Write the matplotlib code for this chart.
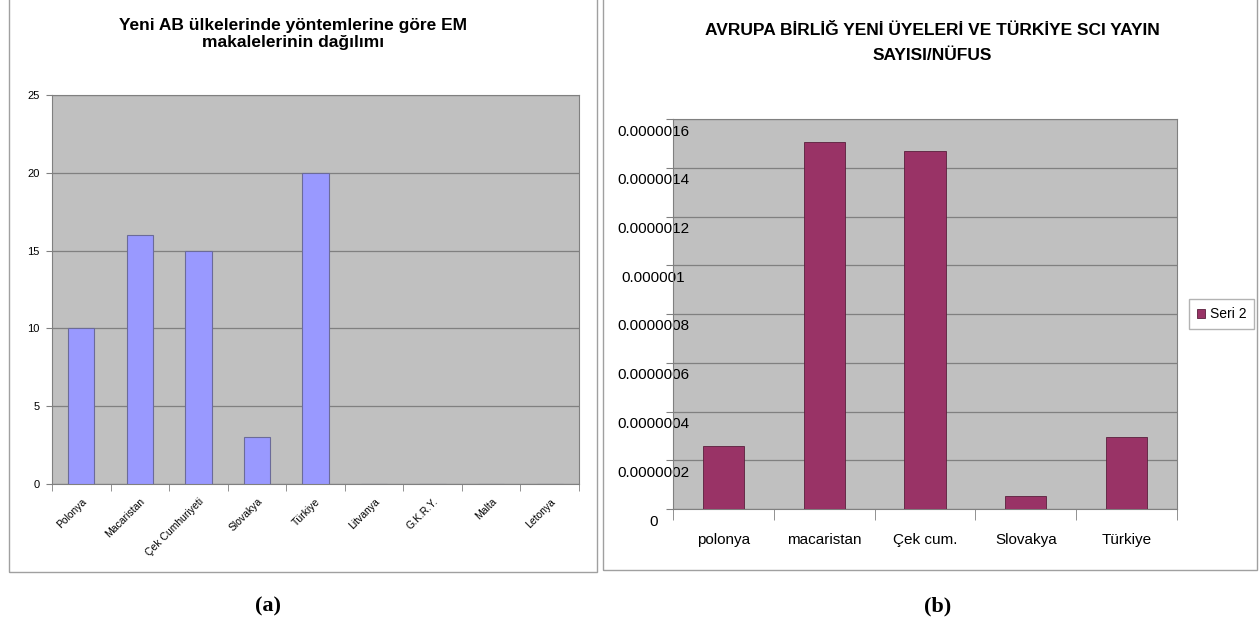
import numpy as np
import matplotlib
matplotlib.use("Agg")
import matplotlib.pyplot as plt
import matplotlib.transforms as mtransforms
from matplotlib.patches import Rectangle

# --- data -------------------------------------------------------------------
left_cats = ['Polonya', 'Macaristan', 'Çek Cumhuriyeti', 'Slovakya', 'Türkiye',
             'Litvanya', 'G.K.R.Y.', 'Malta', 'Letonya']
left_vals = [10, 16, 15, 3, 20, 0, 0, 0, 0]
left_title = 'Yeni AB ülkelerinde yöntemlerine göre EM\nmakalelerinin dağılımı'

right_cats = ['polonya', 'macaristan', 'Çek cum.', 'Slovakya', 'Türkiye']
right_vals = [0.26e-6, 1.505e-6, 1.47e-6, 0.055e-6, 0.295e-6]
right_ticks = [0, 2e-7, 4e-7, 6e-7, 8e-7, 1e-6, 1.2e-6, 1.4e-6, 1.6e-6]
right_ticklabels = ['0', '0.0000002', '0.0000004', '0.0000006', '0.0000008',
                    '0.000001', '0.0000012', '0.0000014', '0.0000016']
right_title = 'AVRUPA BİRLİĞ YENİ ÜYELERİ VE TÜRKİYE SCI YAYIN\nSAYISI/NÜFUS'
series_name = 'Seri 2'

W, H = 1259, 624
plt.rcParams['font.family'] = ['Liberation Sans', 'DejaVu Sans']


def px(x0, y0, x1, y1):
    # pixel box (top-left origin) -> figure fraction rect
    return [x0 / W, 1 - y1 / H, (x1 - x0) / W, (y1 - y0) / H]


fig = plt.figure(figsize=(W / 100, H / 100), dpi=100)
fig.patch.set_facecolor('white')

# panel borders
for (x0, y0, x1, y1) in [(9, -2, 597, 572), (603, -2, 1257, 570)]:
    r = px(x0, y0, x1, y1)
    fig.add_artist(Rectangle((r[0], r[1]), r[2], r[3], transform=fig.transFigure,
                             fill=False, edgecolor='#a0a0a0', lw=1))

GRID = '#808080'
BG = '#c0c0c0'

# ------ left chart ----------------------------------------------------------
ax = fig.add_axes(px(52, 95, 579, 484))
ax.set_facecolor(BG)
x = np.arange(len(left_cats))
ax.bar(x, left_vals, 0.45, color='#9999ff', edgecolor='#6b6b99', lw=0.8, zorder=3)
ax.set_xlim(-0.5, len(left_cats) - 0.5)
ax.set_ylim(0, 25)
ax.set_yticks(range(0, 26, 5))
ax.yaxis.grid(True, color=GRID, lw=0.9, zorder=0)
ax.set_axisbelow(True)
ax.set_xticks(x)
ax.set_xticklabels(left_cats, rotation=45, ha='right', va='top',
                   rotation_mode='anchor', fontsize=7.5)
ax.set_xticks(np.arange(-0.5, len(left_cats)), minor=True)
ax.tick_params(axis='x', which='major', length=0, pad=9)
ax.tick_params(axis='x', which='minor', length=5, color=GRID)
ax.tick_params(axis='y', length=4, color=GRID, labelsize=8, pad=5)
for s in ax.spines.values():
    s.set_color(GRID)
fig.text(293 / W, 1 - 34 / H, left_title, ha='center', va='center',
         fontsize=12.5, fontweight='bold', linespacing=1.15)

# ------ right chart ---------------------------------------------------------
ax2 = fig.add_axes(px(673, 119, 1177, 509))
ax2.set_facecolor(BG)
x2 = np.arange(len(right_cats))
ax2.bar(x2, right_vals, 0.41, color='#993366', edgecolor='#5a1f3c', lw=0.6,
        zorder=3, label=series_name)
ax2.set_xlim(-0.5, len(right_cats) - 0.5)
ax2.set_ylim(0, 1.6e-6)
ax2.set_yticks(right_ticks)
ax2.set_yticklabels(right_ticklabels, fontsize=11, ha='center')
ax2.yaxis.grid(True, color=GRID, lw=0.9, zorder=0)
ax2.set_axisbelow(True)
ax2.set_xticks(x2)
ax2.set_xticklabels(right_cats, fontsize=11)
ax2.set_xticks(np.arange(-0.5, len(right_cats)), minor=True)
ax2.tick_params(axis='x', which='major', length=0, pad=17)
ax2.tick_params(axis='x', which='minor', length=8, color=GRID)
ax2.tick_params(axis='y', length=5, color=GRID, pad=9)
off = mtransforms.ScaledTranslation(0, -11 / 100, fig.dpi_scale_trans)
for lab in ax2.get_yticklabels():
    lab.set_transform(lab.get_transform() + off)
for s in ax2.spines.values():
    s.set_color(GRID)
ax2.legend(loc='center left', bbox_to_anchor=(1189 / W, 1 - 314 / H),
           bbox_transform=fig.transFigure, fontsize=10, frameon=True,
           fancybox=False, edgecolor='#a0a0a0', handlelength=0.6,
           handleheight=0.6, handletextpad=0.35, borderpad=0.55,
           borderaxespad=0)
fig.text(932 / W, 1 - 43 / H, right_title, ha='center', va='center',
         fontsize=12.5, fontweight='bold', linespacing=1.8)

# captions
for cx, t in [(268, '(a)'), (938, '(b)')]:
    fig.text(cx / W, 1 - 606 / H, t, ha='center', va='center', fontsize=16,
             fontweight='bold', family=['Liberation Serif', 'DejaVu Serif'])

fig.savefig('out.png', dpi=100)
